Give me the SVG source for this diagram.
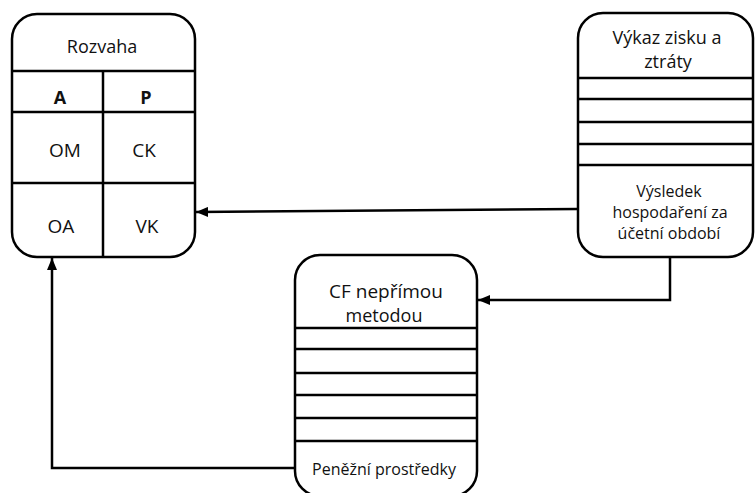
<svg xmlns="http://www.w3.org/2000/svg" width="756" height="493" viewBox="0 0 756 493">
  <style>
    .box { fill: #ffffff; stroke: #000000; stroke-width: 2.5; }
    .rule { stroke: #000000; stroke-width: 2.5; fill: none; }
    .wire { stroke: #000000; stroke-width: 2.5; fill: none; }
    text { font-family: "Open Sans", "DejaVu Sans", sans-serif; font-size: 16px; fill: #111111; text-anchor: middle; }
    .title { font-size: 18px; }
    .cell { font-size: 19px; }
    .big { font-size: 19px; }
    .bold { font-weight: bold; font-size: 18px; }
  </style>
  <defs>
    <marker id="head" viewBox="0 0 12 10" refX="12" refY="5" markerWidth="12" markerHeight="10" markerUnits="userSpaceOnUse" orient="auto">
      <path d="M0,0 L12,5 L0,10 Z" fill="#000000"/>
    </marker>
  </defs>

  <!-- Balance sheet -->
  <g id="rozvaha">
    <rect class="box" x="12" y="14" width="183" height="243" rx="25" ry="25"/>
    <line class="rule" x1="12" y1="71" x2="195" y2="71"/>
    <line class="rule" x1="12" y1="112" x2="195" y2="112"/>
    <line class="rule" x1="12" y1="183" x2="195" y2="183"/>
    <line class="rule" x1="103" y1="71" x2="103" y2="257"/>
    <text class="title" x="102" y="53">Rozvaha</text>
    <text class="bold" x="60" y="104">A</text>
    <text class="bold" x="146" y="104">P</text>
    <text class="cell" x="65" y="157">OM</text>
    <text class="cell" x="144" y="157">CK</text>
    <text class="cell" x="61" y="233">OA</text>
    <text class="cell" x="147" y="233">VK</text>
  </g>

  <!-- Income statement -->
  <g id="vykaz">
    <rect class="box" x="578" y="13" width="175" height="244" rx="25" ry="25"/>
    <line class="rule" x1="578" y1="78" x2="753" y2="78"/>
    <line class="rule" x1="578" y1="99" x2="753" y2="99"/>
    <line class="rule" x1="578" y1="122" x2="753" y2="122"/>
    <line class="rule" x1="578" y1="144" x2="753" y2="144"/>
    <line class="rule" x1="578" y1="165" x2="753" y2="165"/>
    <text class="title" x="667" y="44">Výkaz zisku a</text>
    <text class="title" x="668" y="68">ztráty</text>
    <text x="669" y="197">Výsledek</text>
    <text x="670" y="218">hospodaření za</text>
    <text x="669" y="239">účetní období</text>
  </g>

  <!-- Indirect cash flow -->
  <g id="cf">
    <rect class="box" x="295" y="255" width="182" height="241" rx="25" ry="25"/>
    <line class="rule" x1="295" y1="328" x2="477" y2="328"/>
    <line class="rule" x1="295" y1="349" x2="477" y2="349"/>
    <line class="rule" x1="295" y1="373" x2="477" y2="373"/>
    <line class="rule" x1="295" y1="395" x2="477" y2="395"/>
    <line class="rule" x1="295" y1="418" x2="477" y2="418"/>
    <line class="rule" x1="295" y1="441" x2="477" y2="441"/>
    <text class="big" x="386" y="298">CF nepřímou</text>
    <text class="title" x="384" y="322">metodou</text>
    <text x="384" y="475">Peněžní prostředky</text>
  </g>

  <!-- Connectors -->
  <g id="connectors">
    <path class="wire" d="M578,209 L196,212" marker-end="url(#head)"/>
    <path class="wire" d="M670,257 L670,300 L478,300" marker-end="url(#head)"/>
    <path class="wire" d="M295,468 L52,468 L52,258" marker-end="url(#head)"/>
  </g>
</svg>
